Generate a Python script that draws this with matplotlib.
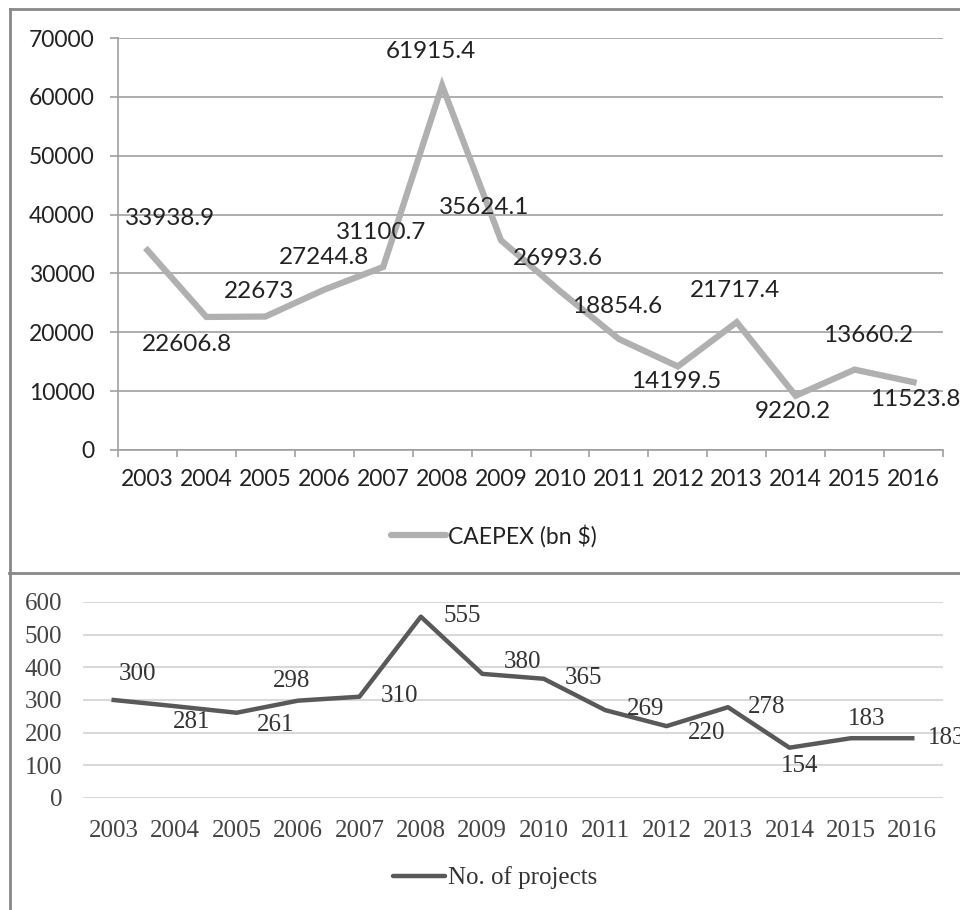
import matplotlib.pyplot as plt
from matplotlib.lines import Line2D

years = ["2003", "2004", "2005", "2006", "2007", "2008", "2009",
         "2010", "2011", "2012", "2013", "2014", "2015", "2016"]
caepex = [33938.9, 22606.8, 22673, 27244.8, 31100.7, 61915.4, 35624.1,
          26993.6, 18854.6, 14199.5, 21717.4, 9220.2, 13660.2, 11523.8]
caepex_labels = ["33938.9", "22606.8", "22673", "27244.8", "31100.7", "61915.4", "35624.1",
                 "26993.6", "18854.6", "14199.5", "21717.4", "9220.2", "13660.2", "11523.8"]
projects = [300, 281, 261, 298, 310, 555, 380, 365, 269, 220, 278, 154, 183, 183]

# label offsets in pixels (Excel placed them a bit oddly)
top_off = [(23, 32), (-19, -28), (-6, 25), (0, 32), (-2, 34), (-11, 34), (-17, 33),
           (-2, 33), (-2, 33), (-2, -15), (-2, 32), (-3, -16), (14, 34), (2, -17)]
bot_off = [(24, 26), (16, -16), (39, -12), (-6, 20), (40, 1), (41, 1), (40, 12),
           (40, 1), (40, 1), (40, -7), (39, 0), (10, -18), (16, 19), (34, 0)]

W, H = 960, 910
fig = plt.figure(figsize=(W / 100, H / 100), dpi=100)

sans = "Lato"
serif = "Liberation Serif"
x = list(range(len(years)))

# ---- top panel ----
ax1 = fig.add_axes([118 / W, 1 - 450 / H, 825 / W, 412 / H])
ax1.plot(x, caepex, color="#b0b0b0", lw=4.5, solid_joinstyle="miter")
ax1.set_xlim(-0.5, 13.5)
ax1.set_ylim(0, 70000)
ax1.set_yticks(range(0, 70001, 10000))
ax1.set_yticklabels([str(v) for v in range(0, 70001, 10000)],
                    fontfamily=sans, fontsize=16.5, color="#222222")
ax1.set_xticks(x)
ax1.set_xticklabels(years, fontfamily=sans, fontsize=16.5, color="#222222")
ax1.set_xticks([i - 0.5 for i in range(15)], minor=True)
ax1.tick_params(axis="x", which="major", length=0, pad=14)
ax1.tick_params(axis="x", which="minor", length=5, color="#a0a0a0", width=1.2)
ax1.tick_params(axis="y", length=6, color="#a0a0a0", width=1.2, pad=11)
ax1.grid(axis="y", color="#a0a0a0", lw=1.2)
ax1.set_axisbelow(True)
for s in ["top", "right"]:
    ax1.spines[s].set_visible(False)
for s in ["left", "bottom"]:
    ax1.spines[s].set_color("#a0a0a0")
    ax1.spines[s].set_linewidth(1.2)

for i, v in enumerate(caepex):
    ax1.annotate(caepex_labels[i], (i, v), xytext=top_off[i], textcoords="offset pixels",
                 ha="center", va="center", fontfamily=sans, fontsize=17.5,
                 color="#222222", annotation_clip=False)

h1 = Line2D([], [], color="#b0b0b0", lw=4.5, solid_capstyle="round")
fig.legend([h1], ["CAEPEX (bn $)"], loc="center", bbox_to_anchor=(494 / W, 1 - 536 / H),
           frameon=False, prop={"family": sans, "size": 16.5}, handlelength=2.4,
           handletextpad=0.1, labelcolor="#222222")

# ---- bottom panel ----
ax2 = fig.add_axes([83 / W, 1 - 798 / H, 860 / W, 196 / H])
ax2.plot(x, projects, color="#595959", lw=3.2)
ax2.set_xlim(-0.5, 13.5)
ax2.set_ylim(0, 600)
ax2.set_yticks(range(0, 601, 100))
ax2.set_yticklabels([str(v) for v in range(0, 601, 100)],
                    fontfamily=serif, fontsize=18, color="#444444")
ax2.set_xticks(x)
ax2.set_xticklabels(years, fontfamily=serif, fontsize=18, color="#444444")
ax2.tick_params(length=0)
ax2.tick_params(axis="x", pad=16)
ax2.tick_params(axis="y", pad=15)
ax2.grid(axis="y", color="#d9d9d9", lw=1.5)
ax2.set_axisbelow(True)
for s in ax2.spines.values():
    s.set_visible(False)

for i, v in enumerate(projects):
    ax2.annotate(str(v), (i, v), xytext=bot_off[i], textcoords="offset pixels",
                 ha="center", va="center", fontfamily=serif, fontsize=18,
                 color="#333333", annotation_clip=False)

h2 = Line2D([], [], color="#595959", lw=3.2, solid_capstyle="round")
fig.legend([h2], ["No. of projects"], loc="center", bbox_to_anchor=(495 / W, 1 - 878 / H),
           frameon=False, prop={"family": serif, "size": 18}, handlelength=2.1,
           handletextpad=0.1, labelcolor="#333333")

# ---- panel borders ----
border = dict(color="#888888", lw=2, transform=fig.transFigure)
fig.add_artist(Line2D([10 / W, 1], [1 - 9 / H, 1 - 9 / H], **border))
fig.add_artist(Line2D([10 / W, 10 / W], [1 - 9 / H, 0], **border))
fig.add_artist(Line2D([9 / W, 1], [1 - 573 / H, 1 - 573 / H], **border))

fig.savefig("out.png", dpi=100)
